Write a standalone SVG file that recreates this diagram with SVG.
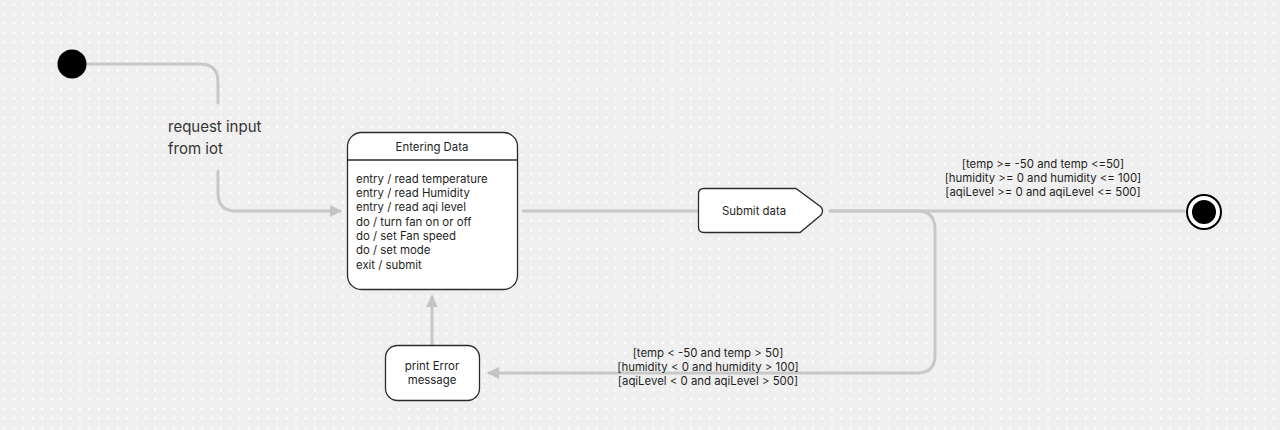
<svg xmlns="http://www.w3.org/2000/svg" width="1280" height="430" viewBox="0 0 1280 430">
  <defs>
    <pattern id="dots" x="0" y="0" width="9.4" height="9.4" patternUnits="userSpaceOnUse">
      <circle cx="4.7" cy="4.7" r="1.1" fill="#ffffff"/>
    </pattern>
    <marker id="arrow" markerWidth="12" markerHeight="12" refX="10" refY="6" orient="auto" markerUnits="userSpaceOnUse">
      <path d="M0,0 L12,6 L0,12 Z" fill="#c4c4c4"/>
    </marker>
    <style>
      .edge { fill: none; stroke: #c8c8c8; stroke-width: 3; stroke-linecap: round; }
      .box { fill: #ffffff; stroke: #2b2b2b; stroke-width: 1.3; }
      .t { font-family: Inter, "Noto Sans", "Liberation Sans", sans-serif; font-size: 11.4px; fill: #1e1e1e; }
      .c { text-anchor: middle; }
      .lbl { font-family: Inter, "Noto Sans", "Liberation Sans", sans-serif; font-size: 15px; fill: #333333; }
    </style>
  </defs>

  <rect width="1280" height="430" fill="#efefef"/>
  <rect width="1280" height="430" fill="url(#dots)"/>

  <g id="connectors">
    <!-- initial to Entering Data -->
    <path class="edge" d="M86,64 H200 Q218,64 218,82 V103"/>
    <path class="edge" d="M218,171 V193 Q218,211 236,211 H340" marker-end="url(#arrow)"/>
    <!-- Entering Data to Submit data -->
    <path class="edge" d="M523,211 H697"/>
    <!-- Submit data to final -->
    <path class="edge" d="M830,211 H1184"/>
    <!-- Submit data to error -->
    <path class="edge" d="M830,211 H917 Q935,211 935,229 V355 Q935,373 917,373 H489" marker-end="url(#arrow)"/>
    <!-- error back to Entering Data -->
    <path class="edge" d="M432,344 V297" marker-end="url(#arrow)"/>
  </g>

  <g id="edge-labels">
    <text class="lbl" x="168" y="132">request input</text>
    <text class="lbl" x="168" y="154">from iot</text>
    <text class="t c" x="1043" y="168">[temp &gt;= -50 and temp &lt;=50]</text>
    <text class="t c" x="1043" y="182">[humidity &gt;= 0 and humidity &lt;= 100]</text>
    <text class="t c" x="1043" y="196">[aqiLevel &gt;= 0 and aqiLevel &lt;= 500]</text>
    <text class="t c" x="708" y="357">[temp &lt; -50 and temp &gt; 50]</text>
    <text class="t c" x="708" y="371">[humidity &lt; 0 and humidity &gt; 100]</text>
    <text class="t c" x="708" y="385">[aqiLevel &lt; 0 and aqiLevel &gt; 500]</text>
  </g>

  <g id="initial">
    <circle cx="72" cy="64" r="14.5" fill="#000000"/>
  </g>

  <g id="entering-data">
    <rect class="box" x="347.5" y="132.5" width="170" height="157" rx="14"/>
    <line x1="347.5" y1="160" x2="517.5" y2="160" stroke="#2b2b2b" stroke-width="1.3"/>
    <text class="t c" x="432" y="151">Entering Data</text>
    <text class="t" x="356" y="183">entry / read temperature</text>
    <text class="t" x="356" y="197">entry / read Humidity</text>
    <text class="t" x="356" y="211">entry / read aqi level</text>
    <text class="t" x="356" y="226">do / turn fan on or off</text>
    <text class="t" x="356" y="240">do / set Fan speed</text>
    <text class="t" x="356" y="254">do / set mode</text>
    <text class="t" x="356" y="269">exit / submit</text>
  </g>

  <g id="submit-data">
    <path class="box" d="M704,188.5 H796 L821,207 Q824,211 821,215 L800,232.5 H704 Q698.5,232.5 698.5,227 V194 Q698.5,188.5 704,188.5 Z"/>
    <text class="t c" x="754" y="215">Submit data</text>
  </g>

  <g id="final">
    <circle cx="1204" cy="212" r="17" fill="#ffffff" stroke="#000000" stroke-width="2"/>
    <circle cx="1204" cy="212" r="12" fill="#000000"/>
  </g>

  <g id="print-error">
    <rect class="box" x="385.5" y="345.5" width="94" height="55" rx="12"/>
    <text class="t c" x="432" y="370">print Error</text>
    <text class="t c" x="432" y="384">message</text>
  </g>
</svg>
